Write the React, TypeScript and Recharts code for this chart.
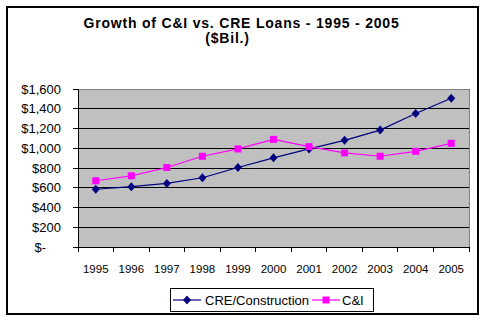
import React from "react";
import {
  LineChart,
  Line,
  XAxis,
  YAxis,
  CartesianGrid,
  Legend,
} from "recharts";

const years = ["1995", "1996", "1997", "1998", "1999", "2000", "2001", "2002", "2003", "2004", "2005"];
const creConstruction = [585, 611, 644, 701, 805, 903, 993, 1080, 1184, 1352, 1506];
const cAndI = [671, 721, 805, 919, 993, 1090, 1016, 953, 919, 969, 1050];
const yTicks = [0, 200, 400, 600, 800, 1000, 1200, 1400, 1600];
const gridValues = [200, 400, 600, 800, 1000, 1200, 1400];

const data = years.map((year, i) => ({
  year,
  cre: creConstruction[i],
  ci: cAndI[i],
}));

const FONT = '"Liberation Sans", Arial, sans-serif';
const NAVY = "#000080";
const MAGENTA = "#FF00FF";

// plot area is 391px wide, 11 categories -> half a category on each side
const PLOT_W = 391;
const HALF_BAND = PLOT_W / years.length / 2;

const money = (v: number) => (v === 0 ? "$-" : "$" + v.toLocaleString("en-US"));

// tickSize/tickMargin are 0 on both axes, so x / y below sit on the axis line
const YTick = (props: any) => {
  const { x, y, payload } = props;
  const zero = payload.value === 0;
  return (
    <g>
      <rect x={Math.floor(x) - 5} y={Math.floor(y)} width={5} height={1} fill="#000" />
      <text x={zero ? x - 32 : x - 17} y={y} dy={4.5} textAnchor="end" fontSize={13} fontFamily={FONT} fill="#000">
        {money(payload.value)}
      </text>
    </g>
  );
};

const XTick = (props: any) => {
  const { x, y, payload, index } = props;
  const last = index === years.length - 1;
  const left = Math.floor(x - HALF_BAND);
  const right = Math.floor(x + HALF_BAND);
  return (
    <g>
      <rect x={left} y={Math.floor(y)} width={1} height={5} fill="#000" />
      {last && <rect x={right} y={Math.floor(y)} width={1} height={5} fill="#000" />}
      <text x={x} y={y + 26} textAnchor="middle" fontSize={11.5} fontFamily={FONT} fill="#000">
        {payload.value}
      </text>
    </g>
  );
};

const Diamond = (props: any) => {
  const { cx, cy } = props;
  if (cx == null || cy == null) return null;
  return <polygon points={`${cx},${cy - 4.5} ${cx + 4},${cy} ${cx},${cy + 4.5} ${cx - 4},${cy}`} fill={NAVY} />;
};

const Square = (props: any) => {
  const { cx, cy } = props;
  if (cx == null || cy == null) return null;
  return <rect x={cx - 3.5} y={cy - 3.5} width={7} height={7} fill={MAGENTA} />;
};

const LegendBox = () => (
  <div
    style={{
      boxSizing: "border-box",
      width: 204,
      height: 24,
      border: "1px solid #000",
      background: "#fff",
      display: "flex",
      alignItems: "center",
      fontFamily: FONT,
      fontSize: 13,
      color: "#000",
      paddingLeft: 2,
    }}
  >
    <svg width={28} height={10}>
      <line x1={0} x2={28} y1={5} y2={5} stroke={NAVY} strokeWidth={1.2} />
      <polygon points="14,0.5 18,5 14,9.5 10,5" fill={NAVY} />
    </svg>
    <span style={{ marginLeft: 4 }}>CRE/Construction</span>
    <svg width={28} height={10} style={{ marginLeft: 3 }}>
      <line x1={0} x2={28} y1={5} y2={5} stroke={MAGENTA} strokeWidth={1.2} />
      <rect x={10.5} y={1.5} width={7} height={7} fill={MAGENTA} />
    </svg>
    <span style={{ marginLeft: 2 }}>C&amp;I</span>
  </div>
);

export default function App() {
  return (
    <div style={{ position: "absolute", left: 0, top: 0, width: 485, height: 322, background: "#fff" }}>
      <div
        style={{
          position: "absolute",
          left: 6,
          top: 6,
          width: 473,
          height: 309,
          boxSizing: "border-box",
          border: "2px solid #000",
        }}
      />
      <div
        style={{
          position: "absolute",
          left: 0,
          top: 16,
          width: 483,
          textAlign: "center",
          fontFamily: FONT,
          fontWeight: "bold",
          fontSize: 14,
          letterSpacing: 0.8,
          lineHeight: "15px",
          color: "#000",
        }}
      >
        <div>Growth of C&amp;I vs. CRE Loans - 1995 - 2005</div>
        <div style={{ paddingRight: 28 }}>($Bil.)</div>
      </div>
      <LineChart
        width={485}
        height={322}
        data={data}
        margin={{ top: 89, right: 16, left: 0, bottom: 11 }}
        style={{ position: "absolute", left: 0, top: 0 }}
      >
        <CartesianGrid
          vertical={false}
          horizontalValues={gridValues}
          stroke="#000"
          fill="#C0C0C0"
          fillOpacity={1}
          shapeRendering="crispEdges"
        />
        {/* gray frame on top and right of the plot area */}
        <CartesianGrid
          horizontalValues={[1600]}
          verticalCoordinatesGenerator={({ offset }: any) => [offset.left + offset.width]}
          stroke="#808080"
          shapeRendering="crispEdges"
        />
        <XAxis
          dataKey="year"
          height={40}
          padding={{ left: HALF_BAND, right: HALF_BAND }}
          axisLine={{ stroke: "#000", shapeRendering: "crispEdges" }}
          tickLine={false}
          tickSize={0}
          tickMargin={0}
          interval={0}
          tick={<XTick />}
        />
        <YAxis
          width={78}
          domain={[0, 1600]}
          ticks={yTicks}
          interval={0}
          axisLine={{ stroke: "#000", shapeRendering: "crispEdges" }}
          tickLine={false}
          tickSize={0}
          tickMargin={0}
          tick={<YTick />}
        />
        <Legend
          verticalAlign="bottom"
          content={<LegendBox />}
          wrapperStyle={{ left: 170, top: 288, bottom: "auto", width: 204, height: 24 }}
        />
        <Line type="linear" dataKey="cre" name="CRE/Construction" stroke={NAVY} strokeWidth={1.2} dot={<Diamond />} activeDot={false} isAnimationActive={false} />
        <Line type="linear" dataKey="ci" name="C&I" stroke={MAGENTA} strokeWidth={1.2} dot={<Square />} activeDot={false} isAnimationActive={false} />
      </LineChart>
    </div>
  );
}
